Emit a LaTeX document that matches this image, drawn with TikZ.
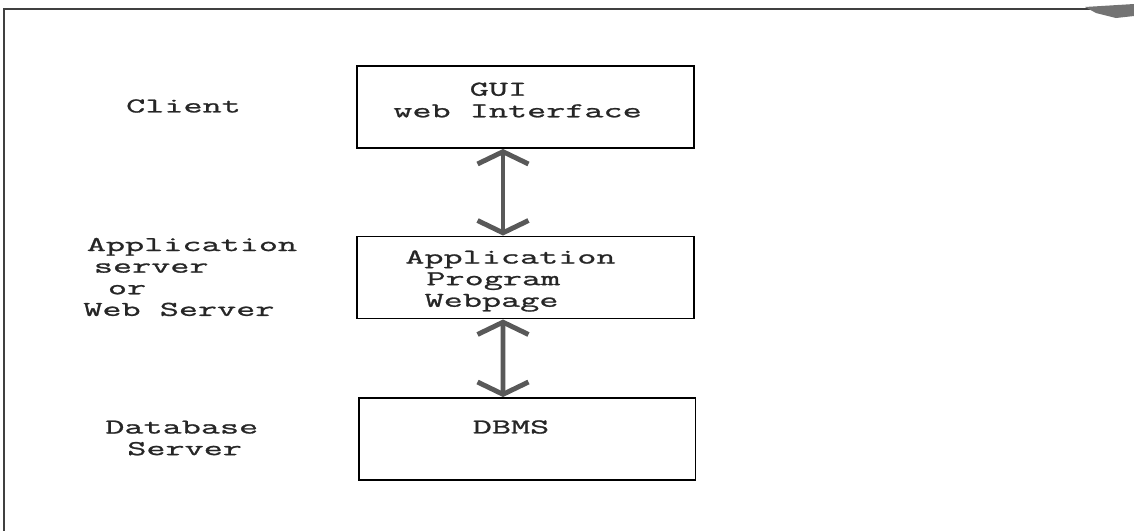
\documentclass[tikz,border=0pt]{standalone}
\usepackage{xcolor}
\usepackage{fontspec}
\usepackage{tikz}
\usetikzlibrary{arrows.meta}
\newfontfamily\courtxt[FakeStretch=1.76,FakeBold=1.2]{Latin Modern Mono}

\begin{document}
\begin{tikzpicture}[x=0.02cm,y=-0.02cm]
			\tikzstyle{tier} = [draw, line width=1.1pt, minimum width=6.74cm, minimum height=1.64cm]
			\tikzstyle{caption} = [inner sep=0pt, align=left, text=black!85, font=\courtxt\fontsize{12pt}{12.3pt}\selectfont]
			\tikzset{link/.style = {draw=black!65, line width=2.8pt, {Straight Barb[length=7pt,width=29pt]}-{Straight Barb[length=7pt,width=29pt]}}}
			\useasboundingbox (0,0) rectangle (1134,531);
			
			% page edge
			\draw[black!75, line width=1.1pt] (4,531) -- (4,9) -- (1134,9);
			\fill[black!55] (1085,7) -- (1134,4) -- (1134,16) -- (1116,18) -- (1096,13) -- cycle;
			
			\node[tier](gui) at (525.5,107) {};
			\node[tier](app) at (525.5,277.5) {};
			\node[tier](dbms) at (527,439) {};
			
			\node[caption, anchor=west](guitext) at (393,100) {\phantom{web\ }GUI\\web Interface};
			\node[caption, anchor=west](apptext) at (405,281) {Application\\\hspace*{12pt}Program\\\hspace*{11pt}Webpage};
			\node[caption](dbmstext) at (511,427) {DBMS};
			
			\draw[link]([xshift=-0.45cm]gui.south) to ([xshift=-0.45cm]app.north);
			\draw[link]([xshift=-0.45cm]app.south) to ([xshift=-0.48cm]dbms.north);
			
			\node[caption](client) at (183.5,106) {Client};
			\node[caption, anchor=west](appserver) at (83,277) {\hspace*{2pt}Application\\\hspace*{6pt}server\\\hspace*{14pt}or\\Web Server};
			\node[caption, anchor=west](dbserver) at (105,438) {Database\\\hspace*{12.5pt}Server};
			
			\end{tikzpicture}
\end{document}
